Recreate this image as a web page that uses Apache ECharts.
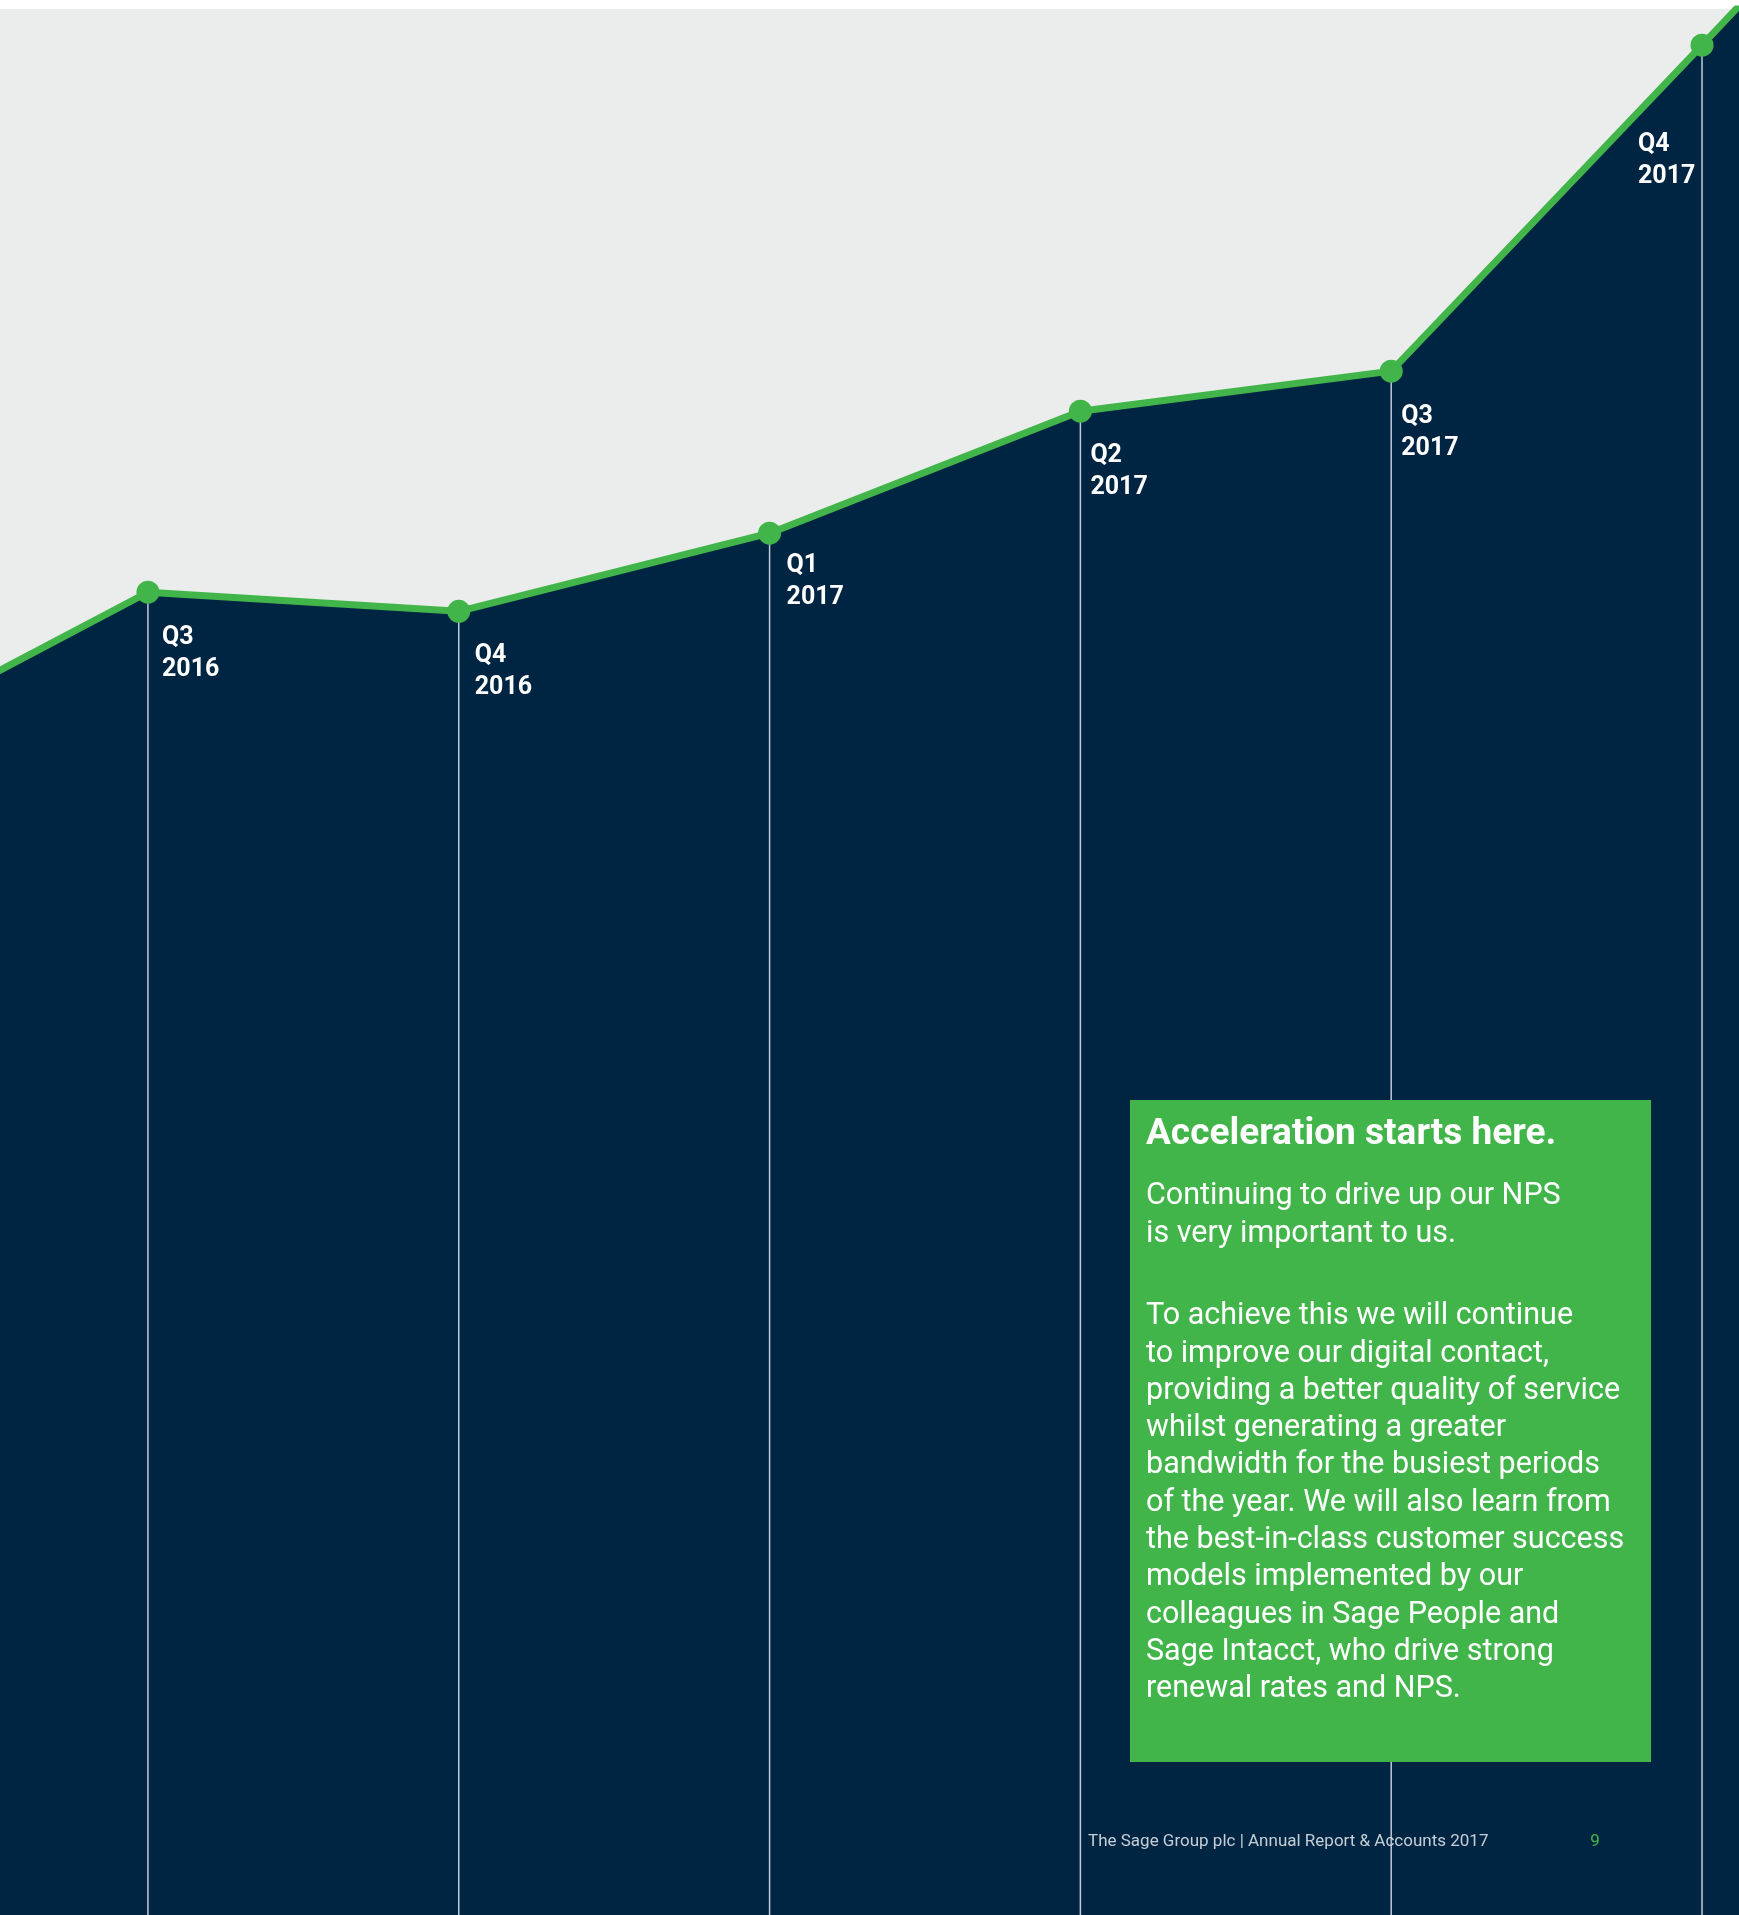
<!DOCTYPE html>
<html>
<head>
<meta charset="utf-8">
<title>Sage NPS trend</title>
<script src="https://cdn.jsdelivr.net/npm/echarts@6/dist/echarts.min.js"></script>
<style>
  html, body { margin: 0; padding: 0; background: #ffffff; }
  #chart { width: 1739px; height: 1915px; }
</style>
</head>
<body>
<div id="chart"></div>
<script>
// Quarters on the page; the first and last entries are the segments
// that run off the left and right edges of the page.
const quarters = ['Q2 2016', 'Q3 2016', 'Q4 2016', 'Q1 2017', 'Q2 2017', 'Q3 2017', 'Q4 2017', 'Q1 2018'];
const npsIndex = [60.8, 69.4, 68.4, 72.5, 78.9, 81.0, 98.1, 115.4];
const labelled = [false, true, true, true, true, true, true, false];

const boxTitle = 'Acceleration starts here.';
const boxIntro = ['Continuing to drive up our NPS', 'is very important to us.'];
const boxBody = [
  'To achieve this we will continue',
  'to improve our digital contact,',
  'providing a better quality of service',
  'whilst generating a greater',
  'bandwidth for the busiest periods',
  'of the year. We will also learn from',
  'the best-in-class customer success',
  'models implemented by our',
  'colleagues in Sage People and',
  'Sage Intacct, who drive strong',
  'renewal rates and NPS.'
];
const footerText = 'The Sage Group plc | Annual Report & Accounts 2017';
const pageNumber = '9';

const NAVY = '#002542';
const GREEN = '#42b54a';
const GREY = '#ebedec';
const FONT = 'Roboto, "Noto Sans", sans-serif';

// quarter index along the x axis: Q3 2016 = 0
const qIndex = quarters.map((q, i) => i - 1);

// visible window of the time axis, in quarters
const X_MIN = -0.476;
const X_MAX = 5.119;

// label placement beside each marker (relative to the marker box)
const labelPos = {
  'Q3 2016': [25.5, 41.5],
  'Q4 2016': [27.5, 39.5],
  'Q1 2017': [28.5, 28.5],
  'Q2 2017': [21.5, 40.5],
  'Q3 2017': [21.5, 41.5],
  'Q4 2017': [-52.5, 95.5]
};

const lineData = npsIndex.map((v, i) => ({
  name: quarters[i],
  value: [qIndex[i], v],
  symbolSize: labelled[i] ? 23 : 0,
  label: labelled[i]
    ? { show: true, position: labelPos[quarters[i]] }
    : { show: false }
}));

const areaData = npsIndex.map((v, i) => [qIndex[i], v]);
const stemData = npsIndex.map((v, i) => (labelled[i] ? [qIndex[i], v] : [qIndex[i], '-']));

const chart = echarts.init(document.getElementById('chart'), null, { renderer: 'canvas' });

chart.setOption({
  backgroundColor: '#ffffff',
  animation: false,
  grid: {
    left: 0, right: 0, top: 9, bottom: 0,
    show: true, backgroundColor: GREY, borderWidth: 0,
    containLabel: false
  },
  xAxis: {
    type: 'value',
    min: X_MIN, max: X_MAX,
    show: false
  },
  yAxis: {
    type: 'value',
    min: 0, max: 100,
    show: false
  },
  series: [
    {
      // dark fill under the trend
      type: 'line',
      data: areaData,
      z: 1,
      symbol: 'none',
      lineStyle: { width: 0 },
      areaStyle: { color: NAVY, opacity: 1 },
      clip: true,
      silent: true
    },
    {
      // thin stems dropping from each quarter marker
      type: 'bar',
      data: stemData,
      z: 3,
      barWidth: 1.5,
      itemStyle: { color: 'rgba(214,221,229,0.9)' },
      silent: true
    },
    {
      type: 'line',
      data: lineData,
      z: 4,
      symbol: 'circle',
      itemStyle: { color: GREEN },
      lineStyle: { color: GREEN, width: 7 },
      clip: true,
      label: {
        formatter: p => p.name.replace(' ', '\n'),
        color: '#ffffff',
        fontFamily: FONT,
        fontWeight: 'bold',
        fontSize: 25,
        lineHeight: 32,
        align: 'left',
        verticalAlign: 'top'
      },
      silent: true
    }
  ],
  graphic: [
    {
      type: 'text', z: 2,
      style: {
        text: footerText, x: 1088, y: 1842,
        fontSize: 17, fontFamily: FONT, fill: '#c6ced7',
        verticalAlign: 'middle'
      }
    },
    {
      type: 'text', z: 2,
      style: {
        text: pageNumber, x: 1595, y: 1842,
        fontSize: 17, fontFamily: FONT, fill: GREEN,
        verticalAlign: 'middle', align: 'center'
      }
    },
    {
      type: 'rect',
      z: 5,
      shape: { x: 1130, y: 1100, width: 521, height: 662 },
      style: { fill: GREEN }
    },
    {
      type: 'text', z: 6,
      style: {
        text: boxTitle, x: 1146, y: 1113,
        fontSize: 37, fontWeight: 'bold', fontFamily: FONT, fill: '#ffffff',
        verticalAlign: 'top', lineHeight: 44
      }
    },
    {
      type: 'text', z: 6,
      style: {
        text: boxIntro.join('\n'), x: 1146, y: 1177,
        fontSize: 30.5, fontFamily: FONT, fill: '#ffffff',
        verticalAlign: 'top', lineHeight: 38
      }
    },
    {
      type: 'text', z: 6,
      style: {
        text: boxBody.join('\n'), x: 1146, y: 1298,
        fontSize: 30.5, fontFamily: FONT, fill: '#ffffff',
        verticalAlign: 'top', lineHeight: 37.3
      }
    }
  ]
});
</script>
</body>
</html>
